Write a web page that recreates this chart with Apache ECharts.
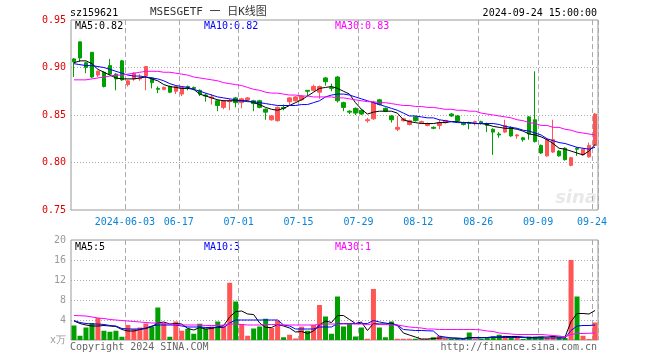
<!DOCTYPE html>
<html><head><meta charset="utf-8">
<script src="https://cdn.jsdelivr.net/npm/echarts@6/dist/echarts.min.js"></script>
<style>html,body{margin:0;padding:0;background:#fff}#c{width:660px;height:360px}</style>
</head><body><div id="c"></div>
<script>
const dates = ['2024-05-21','2024-05-22','2024-05-23','2024-05-24','2024-05-27','2024-05-28','2024-05-29','2024-05-30','2024-05-31',
'2024-06-03','2024-06-04','2024-06-05','2024-06-06','2024-06-07','2024-06-11','2024-06-12','2024-06-13','2024-06-14',
'2024-06-17','2024-06-18','2024-06-19','2024-06-20','2024-06-21','2024-06-24','2024-06-25','2024-06-26','2024-06-27','2024-06-28',
'2024-07-01','2024-07-02','2024-07-03','2024-07-04','2024-07-05','2024-07-08','2024-07-09','2024-07-10','2024-07-11','2024-07-12',
'2024-07-15','2024-07-16','2024-07-17','2024-07-18','2024-07-19','2024-07-22','2024-07-23','2024-07-24','2024-07-25','2024-07-26',
'2024-07-29','2024-07-30','2024-07-31','2024-08-01','2024-08-02','2024-08-05','2024-08-06','2024-08-07','2024-08-08','2024-08-09',
'2024-08-12','2024-08-13','2024-08-14','2024-08-15','2024-08-16','2024-08-19','2024-08-20','2024-08-21','2024-08-22','2024-08-23',
'2024-08-26','2024-08-27','2024-08-28','2024-08-29','2024-08-30','2024-09-02','2024-09-03','2024-09-04','2024-09-05','2024-09-06',
'2024-09-09','2024-09-10','2024-09-11','2024-09-12','2024-09-13','2024-09-18','2024-09-19','2024-09-20','2024-09-23','2024-09-24'];

const tickDates  = ['2024-06-03','2024-06-17','2024-07-01','2024-07-15','2024-07-29','2024-08-12','2024-08-26','2024-09-09','2024-09-24'];
const tickLabels = ['2024-06-03','06-17','07-01','07-15','07-29','08-12','08-26','09-09','09-24'];

const opens = [0.909,0.927,0.905,0.916,0.892,0.895,0.902,0.893,0.907,0.882,0.888,0.888,0.891,0.889,0.878,0.877,0.880,0.875,0.872,0.880,
0.879,0.876,0.871,0.868,0.865,0.858,0.864,0.868,0.863,0.866,0.865,0.865,0.856,0.845,0.844,0.858,0.864,0.865,0.866,0.876,
0.876,0.874,0.889,0.879,0.890,0.863,0.854,0.857,0.855,0.844,0.846,0.866,0.857,0.849,0.835,0.844,0.840,0.848,0.842,0.839,
0.837,0.839,0.842,0.851,0.849,0.842,0.842,0.842,0.843,0.841,0.835,0.830,0.832,0.837,0.828,0.826,0.848,0.845,0.818,0.807,
0.811,0.812,0.815,0.797,0.815,0.808,0.806,0.818];
const closes = [0.906,0.910,0.900,0.890,0.896,0.880,0.893,0.888,0.887,0.886,0.894,0.889,0.901,0.884,0.877,0.879,0.874,0.880,0.879,0.879,
0.878,0.872,0.870,0.869,0.860,0.865,0.865,0.863,0.867,0.868,0.862,0.858,0.853,0.849,0.858,0.857,0.868,0.869,0.870,0.875,
0.880,0.880,0.885,0.878,0.865,0.858,0.853,0.852,0.851,0.845,0.863,0.861,0.854,0.845,0.837,0.846,0.844,0.844,0.843,0.841,
0.836,0.842,0.844,0.849,0.844,0.840,0.841,0.843,0.841,0.839,0.832,0.829,0.839,0.828,0.829,0.824,0.830,0.822,0.810,0.824,
0.824,0.807,0.803,0.805,0.814,0.814,0.818,0.851];
const lows = [0.890,0.906,0.894,0.889,0.890,0.879,0.892,0.876,0.886,0.880,0.886,0.886,0.876,0.878,0.873,0.876,0.873,0.872,0.870,0.876,
0.876,0.870,0.864,0.861,0.854,0.856,0.855,0.858,0.857,0.865,0.854,0.857,0.845,0.844,0.843,0.855,0.860,0.864,0.865,0.870,
0.875,0.867,0.881,0.875,0.863,0.854,0.851,0.850,0.850,0.842,0.845,0.860,0.853,0.842,0.833,0.843,0.839,0.843,0.841,0.838,
0.835,0.835,0.841,0.848,0.843,0.839,0.835,0.839,0.840,0.832,0.808,0.826,0.831,0.827,0.825,0.822,0.824,0.821,0.809,0.806,
0.810,0.806,0.802,0.796,0.807,0.807,0.805,0.817];
const highs = [0.910,0.927,0.906,0.916,0.897,0.896,0.909,0.894,0.908,0.887,0.895,0.893,0.901,0.890,0.880,0.880,0.881,0.881,0.879,0.881,
0.880,0.877,0.873,0.872,0.866,0.866,0.867,0.869,0.868,0.869,0.866,0.866,0.857,0.850,0.859,0.861,0.869,0.870,0.871,0.876,
0.882,0.881,0.890,0.883,0.891,0.864,0.855,0.858,0.856,0.847,0.865,0.867,0.858,0.850,0.849,0.847,0.845,0.849,0.844,0.842,
0.838,0.845,0.845,0.852,0.850,0.843,0.843,0.844,0.844,0.842,0.836,0.832,0.845,0.838,0.830,0.827,0.849,0.896,0.819,0.825,
0.845,0.813,0.816,0.806,0.816,0.815,0.821,0.852];

const ma5 = [0.905,0.907,0.907,0.904,0.898,0.895,0.892,0.889,0.888,0.888,0.888,0.889,0.890,0.888,0.886,0.882,0.880,0.879,0.878,0.878,
0.877,0.872,0.870,0.868,0.866,0.865,0.865,0.865,0.865,0.865,0.863,0.861,0.858,0.856,0.855,0.857,0.860,0.863,0.866,0.870,
0.874,0.878,0.879,0.880,0.878,0.875,0.872,0.863,0.856,0.851,0.853,0.854,0.854,0.854,0.852,0.845,0.843,0.842,0.841,0.841,
0.841,0.842,0.842,0.843,0.843,0.842,0.842,0.841,0.841,0.840,0.838,0.837,0.836,0.836,0.835,0.833,0.830,0.829,0.827,0.824,
0.820,0.815,0.814,0.812,0.810,0.808,0.812,0.819];
const ma10 = [0.904,0.903,0.902,0.902,0.901,0.900,0.898,0.896,0.894,0.892,0.891,0.891,0.890,0.889,0.888,0.886,0.883,0.881,0.880,0.879,
0.877,0.875,0.873,0.871,0.869,0.868,0.867,0.866,0.865,0.864,0.864,0.863,0.862,0.861,0.860,0.860,0.860,0.860,0.861,0.861,
0.863,0.865,0.869,0.871,0.872,0.872,0.871,0.869,0.867,0.865,0.863,0.861,0.859,0.857,0.855,0.852,0.849,0.849,0.848,0.847,
0.847,0.845,0.844,0.843,0.842,0.842,0.842,0.841,0.841,0.841,0.841,0.840,0.838,0.837,0.836,0.834,0.833,0.831,0.829,0.825,
0.823,0.821,0.820,0.818,0.816,0.815,0.814,0.816];
const ma30 = [0.887,0.887,0.887,0.888,0.889,0.890,0.891,0.892,0.892,0.893,0.894,0.895,0.896,0.896,0.896,0.895,0.895,0.894,0.893,0.892,
0.890,0.889,0.888,0.887,0.886,0.884,0.883,0.882,0.881,0.879,0.877,0.876,0.874,0.873,0.873,0.872,0.871,0.871,0.870,0.870,
0.869,0.869,0.869,0.869,0.868,0.868,0.867,0.866,0.865,0.864,0.864,0.863,0.863,0.862,0.861,0.860,0.860,0.859,0.859,0.858,
0.858,0.857,0.856,0.856,0.855,0.855,0.854,0.854,0.852,0.851,0.850,0.849,0.848,0.847,0.845,0.844,0.842,0.841,0.839,0.839,
0.837,0.837,0.835,0.834,0.832,0.831,0.830,0.829];

const volumes = [2.9,0.85,2.5,3.4,4.4,1.85,1.65,1.85,0.65,3.0,2.2,2.5,3.3,2.7,6.5,3.2,0.65,3.7,1.85,2.25,
1.25,3.25,2.25,2.7,3.7,2.85,11.45,7.7,3.2,0.85,2.3,2.7,4.25,2.4,3.9,0.55,1.05,0.3,2.65,1.85,
3.0,7.0,4.7,1.25,8.7,2.7,3.25,0.7,2.5,0.25,10.2,2.5,0.55,3.7,0.25,0.25,0.25,0.25,0.2,0.2,
0.55,0.85,0.2,0.2,0.2,0.2,1.5,0.2,0.2,0.55,0.7,1.05,0.85,0.55,0.55,0.2,0.7,0.7,0.7,0.4,
0.85,0.55,0.4,16.0,8.7,0.85,0.2,3.5];
const vma5 = [3.8,3.3,3.0,2.8,2.8,2.9,2.8,2.7,2.1,1.8,1.8,2.1,2.3,2.7,3.4,3.6,3.2,3.3,3.2,2.3,
2.0,2.5,2.2,2.3,2.6,2.9,4.6,5.7,5.8,5.2,5.1,3.4,2.5,2.5,3.1,2.8,2.4,1.6,1.7,1.3,
1.8,3.0,3.8,3.5,4.9,4.9,4.1,3.3,3.6,1.9,3.3,3.2,3.2,3.4,2.9,1.4,1.0,0.6,0.2,0.2,
0.3,0.4,0.4,0.4,0.4,0.3,0.5,0.5,0.5,0.5,0.6,0.6,0.7,0.7,0.7,0.6,0.5,0.5,0.6,0.6,
0.7,0.6,0.6,3.7,5.3,5.3,5.2,5.9];
const vma10 = [3.9,3.5,3.3,3.2,3.2,3.1,2.9,2.8,2.3,2.2,2.2,2.2,2.4,2.8,3.0,3.0,3.0,3.0,2.8,2.6,
2.6,2.6,2.5,2.5,2.5,2.5,3.4,4.0,4.0,4.0,4.0,4.0,4.0,4.0,4.0,3.0,2.8,2.2,2.2,2.2,
2.2,2.6,2.6,2.6,3.3,3.3,3.3,3.3,3.3,3.3,3.9,3.6,3.4,3.2,3.0,2.1,2.0,1.9,1.9,1.85,
1.8,0.75,0.6,0.4,0.3,0.2,0.4,0.4,0.4,0.5,0.55,0.5,0.5,0.5,0.5,0.5,0.4,0.4,0.4,0.4,
0.4,0.4,0.4,1.9,2.8,2.9,2.9,3.0];
const vma30 = [4.9,4.85,4.8,4.6,4.4,4.3,4.1,4.0,3.9,3.8,3.7,3.6,3.5,3.4,3.4,3.3,3.2,3.1,3.0,3.0,
3.0,3.0,2.9,2.9,2.9,3.0,3.2,3.2,3.1,3.0,3.0,3.0,3.1,3.1,3.1,3.0,3.0,3.0,3.0,3.0,
3.0,3.1,3.2,3.2,3.2,3.2,3.2,3.2,3.2,3.1,3.2,3.1,3.1,3.0,3.0,2.8,2.6,2.5,2.4,2.2,
2.2,2.1,2.1,2.1,2.1,2.1,2.1,2.1,2.0,1.8,1.7,1.4,1.3,1.2,1.1,1.1,1.1,1.1,1.1,1.0,
0.9,0.8,0.6,1.1,1.3,1.3,1.35,1.4];

const UP = '#ff5555', DOWN = '#00a000';
const MONO = 'DejaVu Sans Mono';
const candle = dates.map((d, i) => [opens[i], closes[i], lows[i], highs[i]]);
const volData = volumes.map((v, i) => ({ value: v, itemStyle: { color: closes[i] >= opens[i] ? UP : DOWN } }));
const isTick = (idx, val) => tickDates.indexOf(val) >= 0;
const vLine = { show: true, interval: isTick, lineStyle: { color: '#aaa', type: [5, 3], width: 1 } };
const hLine = { show: true, showMinLine: false, showMaxLine: false, lineStyle: { color: '#aaa', type: [1, 2], width: 1 } };

const chart = echarts.init(document.getElementById('c'), null, { renderer: 'canvas' });
const txt = (x, y, text, fill, font, align) => ({ type: 'text', x, y, silent: true,
  style: { text, fill, font: font || ('10px ' + MONO), align: align || 'left', verticalAlign: 'middle' } });

chart.setOption({
  animation: false,
  backgroundColor: '#fff',
  grid: [
    { left: 71, top: 20, width: 527, height: 190, show: true, borderColor: '#999', borderWidth: 1, backgroundColor: 'transparent' },
    { left: 71, top: 240, width: 527, height: 100, show: true, borderColor: '#999', borderWidth: 1, backgroundColor: 'transparent' }
  ],
  xAxis: [
    { type: 'category', gridIndex: 0, data: dates, boundaryGap: true,
      axisLine: { show: false }, axisTick: { show: false }, splitLine: vLine,
      axisLabel: { interval: isTick, color: '#0a84d8', fontFamily: MONO, fontSize: 10, margin: 7, padding: [0, 6, 0, 0],
        formatter: v => tickLabels[tickDates.indexOf(v)] } },
    { type: 'category', gridIndex: 1, data: dates, boundaryGap: true,
      axisLine: { show: false }, axisTick: { show: false }, axisLabel: { show: false }, splitLine: vLine }
  ],
  yAxis: [
    { type: 'value', gridIndex: 0, min: 0.75, max: 0.95, interval: 0.05,
      axisLine: { show: false }, axisTick: { show: false }, splitLine: hLine,
      axisLabel: { color: '#e00000', fontFamily: MONO, fontSize: 10, margin: 5, formatter: v => v.toFixed(2) } },
    { type: 'value', gridIndex: 1, min: 0, max: 20, interval: 4,
      axisLine: { show: false }, axisTick: { show: false }, splitLine: hLine,
      axisLabel: { color: '#999', fontFamily: MONO, fontSize: 10, margin: 5, formatter: v => v === 0 ? 'x万' : String(v) } }
  ],
  series: [
    { type: 'candlestick', xAxisIndex: 0, yAxisIndex: 0, data: candle, barWidth: 4,
      itemStyle: { color: UP, color0: DOWN, borderColor: UP, borderColor0: DOWN, borderWidth: 1 } },
    { type: 'line', xAxisIndex: 0, yAxisIndex: 0, data: ma5, symbol: 'none', lineStyle: { color: '#000', width: 1 } },
    { type: 'line', xAxisIndex: 0, yAxisIndex: 0, data: ma10, symbol: 'none', lineStyle: { color: '#0000ff', width: 1 } },
    { type: 'line', xAxisIndex: 0, yAxisIndex: 0, data: ma30, symbol: 'none', lineStyle: { color: '#ff00ff', width: 1 } },
    { type: 'bar', xAxisIndex: 1, yAxisIndex: 1, data: volData, barWidth: 5 },
    { type: 'line', xAxisIndex: 1, yAxisIndex: 1, data: vma5, symbol: 'none', lineStyle: { color: '#000', width: 1 } },
    { type: 'line', xAxisIndex: 1, yAxisIndex: 1, data: vma10, symbol: 'none', lineStyle: { color: '#0000ff', width: 1 } },
    { type: 'line', xAxisIndex: 1, yAxisIndex: 1, data: vma30, symbol: 'none', lineStyle: { color: '#ff00ff', width: 1 } }
  ],
  graphic: [
    txt(70, 13, 'sz159621', '#000'),
    txt(150, 12, 'MSESGETF 一 日K线图', '#333', '11px ' + MONO + ', "Noto Sans CJK SC"'),
    txt(597, 13, '2024-09-24 15:00:00', '#000', null, 'right'),
    txt(75, 26, 'MA5:0.82', '#000'),
    txt(204, 26, 'MA10:0.82', '#0000ff'),
    txt(335, 26, 'MA30:0.83', '#ff00ff'),
    txt(75, 247, 'MA5:5', '#000'),
    txt(204, 247, 'MA10:3', '#0000ff'),
    txt(335, 247, 'MA30:1', '#ff00ff'),
    txt(70, 347, 'Copyright 2024 SINA.COM', '#666'),
    txt(597, 347, 'http://finance.sina.com.cn', '#666', null, 'right'),
    txt(597, 198, 'sina', 'rgba(190,190,190,0.35)', 'italic bold 18px "DejaVu Sans"', 'right')
  ]
});
</script></body></html>
